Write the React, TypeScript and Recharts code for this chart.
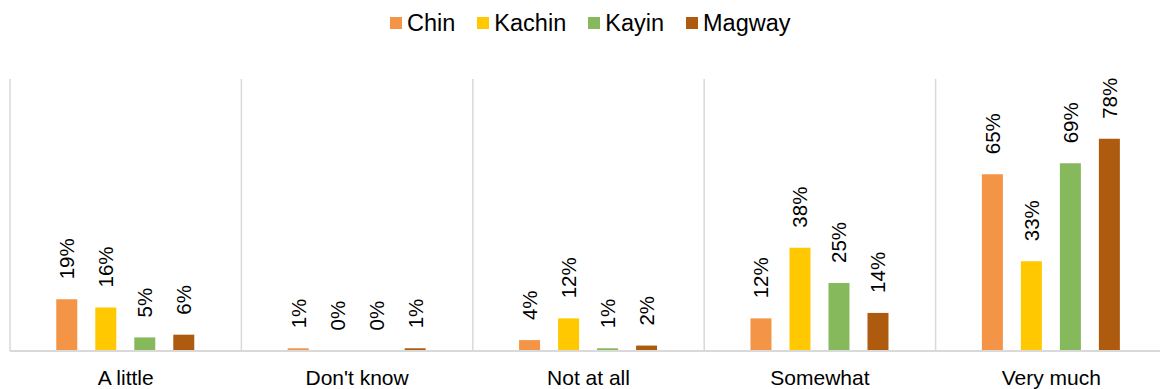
import { BarChart, Bar, XAxis, YAxis, CartesianGrid, LabelList } from 'recharts';

const categories = ['A little', "Don't know", 'Not at all', 'Somewhat', 'Very much'];
const chin = [19, 1, 4, 12, 65];
const kachin = [16, 0.2, 12, 38, 33];
const kayin = [5, 0.2, 1, 25, 69];
const magway = [6, 1, 2, 14, 78];

const SERIES = [
  { key: 'Chin', values: chin, color: '#F39446' },
  { key: 'Kachin', values: kachin, color: '#FFC800' },
  { key: 'Kayin', values: kayin, color: '#86B85C' },
  { key: 'Magway', values: magway, color: '#AE5A0F' },
];

const data = categories.map((name, i) => {
  const row: Record<string, string | number> = { name };
  for (const s of SERIES) row[s.key] = s.values[i];
  return row;
});

const FONT = '"Liberation Sans", Arial, sans-serif';

function VLabel(props: any) {
  const { x, y, width, value } = props;
  const cx = x + width / 2;
  const ty = y - 20;
  return (
    <text
      x={cx}
      y={ty}
      transform={`rotate(-90 ${cx} ${ty})`}
      textAnchor="start"
      dominantBaseline="central"
      fontSize={20.5}
      fontFamily={FONT}
      fill="#000"
    >
      {Math.round(Number(value))}%
    </text>
  );
}

function LegendRow() {
  return (
    <div
      style={{
        position: 'absolute',
        left: 390,
        top: 11,
        display: 'flex',
        fontFamily: FONT,
        fontSize: 23.5,
        lineHeight: '24px',
        color: '#000',
      }}
    >
      {SERIES.map((s) => (
        <div key={s.key} style={{ display: 'flex', alignItems: 'center', marginRight: 22 }}>
          <span style={{ display: 'inline-block', width: 12, height: 12, background: s.color, marginRight: 5 }} />
          <span>{s.key}</span>
        </div>
      ))}
    </div>
  );
}

export default function App() {
  return (
    <div style={{ position: 'absolute', left: 0, top: 0, width: 1160, height: 389, overflow: 'hidden', background: '#fff' }}>
      <LegendRow />
      <BarChart
        width={1170}
        height={389}
        data={data}
        margin={{ top: 79, right: 3, bottom: 8, left: 10 }}
        barCategoryGap="20%"
        barGap={18}
      >
        <CartesianGrid
          horizontal={false}
          stroke="#d9d9d9"
          strokeWidth={1.5}
          verticalCoordinatesGenerator={({ offset }: any) =>
            categories.map((_, i) => offset.left + (i * offset.width) / categories.length).concat(offset.left + offset.width)
          }
        />
        <XAxis
          dataKey="name"
          tickLine={false}
          tickMargin={13}
          height={30}
          axisLine={{ stroke: '#d9d9d9', strokeWidth: 2 }}
          tick={{ fontSize: 21, fill: '#000', fontFamily: FONT }}
          interval={0}
        />
        <YAxis hide domain={[0, 100]} />
        {SERIES.map((s) => (
          <Bar key={s.key} dataKey={s.key} fill={s.color} isAnimationActive={false}>
            <LabelList dataKey={s.key} content={<VLabel />} />
          </Bar>
        ))}
      </BarChart>
    </div>
  );
}
